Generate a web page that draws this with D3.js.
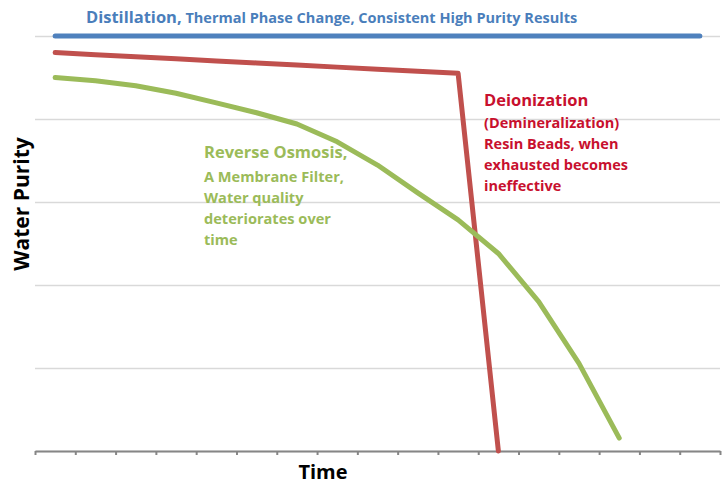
<!DOCTYPE html>
<html lang="en">

<head>
    <meta charset="UTF-8">
    <title>Water Purity over Time</title>
    <script src="https://cdn.jsdelivr.net/npm/d3@7/dist/d3.min.js"></script>
</head>
<style>
    body {
        margin: 0;
        background: #fff;
    }

    text {
        font-family: "Open Sans", "Liberation Sans", sans-serif;
        font-weight: bold;
    }

    .grid line {
        stroke: #d9d9d9;
        stroke-width: 1.5;
    }

    .grid path {
        display: none;
    }

    .xaxis path,
    .xaxis line {
        stroke: #868686;
        stroke-width: 2;
    }
</style>

<body>
    <svg></svg>
</body>

</html>
<script>
    // time periods (no labels shown on the axis)
    const periods = ['1', '2', '3', '4', '5', '6', '7', '8', '9', '10', '11', '12', '13', '14', '15', '16', '17']
    const yTicks = [0, 20, 40, 60, 80, 100]

    const distillation = [100, 100, 100, 100, 100, 100, 100, 100, 100, 100, 100, 100, 100, 100, 100, 100, 100]
    const deionization = [96, 95.5, 95, 94.5, 94, 93.5, 93, 92.5, 92, 91.5, 91, 0]
    const reverseOsmosis = [90, 89.2, 88, 86.2, 83.9, 81.5, 78.8, 74.5, 68.9, 62.2, 55.7, 47.6, 36, 21.1, 3.1]

    const width = 725
    const height = 486
    const plotLeft = 35, plotRight = 720, plotTop = 36, plotBottom = 451

    const svg = d3.select('svg').attr('width', width).attr('height', height)

    const x = d3.scaleBand().domain(periods).range([plotLeft, plotRight]).padding(0)
    const xTick = d3.scaleLinear().domain([0, periods.length]).range([plotLeft, plotRight])
    const y = d3.scaleLinear().domain([0, 100]).range([plotBottom, plotTop])

    // horizontal gridlines
    svg.append('g')
        .attr('class', 'grid')
        .attr('transform', `translate(${plotLeft},0)`)
        .call(d3.axisLeft(y).tickValues(yTicks).tickSize(-(plotRight - plotLeft)).tickFormat(''))

    // category axis, ticks between categories
    svg.append('g')
        .attr('class', 'xaxis')
        .attr('transform', `translate(0,${plotBottom})`)
        .call(d3.axisBottom(xTick).tickValues(d3.range(periods.length + 1)).tickSize(4).tickSizeOuter(0).tickFormat(''))

    const line = d3.line()
        .x((d, i) => x(periods[i]) + x.bandwidth() / 2)
        .y(d => y(d))

    const series = [
        { values: distillation, color: '#4f81bd' },
        { values: deionization, color: '#c0504d' },
        { values: reverseOsmosis, color: '#9bbb59' }
    ]

    svg.selectAll('path.series')
        .data(series)
        .enter()
        .append('path')
        .attr('class', 'series')
        .attr('d', s => line(s.values))
        .attr('fill', 'none')
        .attr('stroke', s => s.color)
        .attr('stroke-width', 5)
        .attr('stroke-linecap', 'round')
        .attr('stroke-linejoin', 'round')

    // title over the distillation line
    const title = svg.append('text')
        .attr('x', 86)
        .attr('y', 23)
        .attr('fill', '#4a7ebb')
    title.append('tspan').attr('font-size', 16.5).text('Distillation,')
    title.append('tspan').attr('font-size', 14.5).text(' Thermal Phase Change, Consistent High Purity Results')

    // reverse osmosis note
    const roLines = ['A Membrane Filter,', 'Water quality', 'deteriorates over', 'time']
    const ro = svg.append('text').attr('fill', '#9bbb59')
    ro.append('tspan').attr('x', 204).attr('y', 158).attr('font-size', 16.5).text('Reverse Osmosis,')
    ro.selectAll(null)
        .data(roLines)
        .enter()
        .append('tspan')
        .attr('x', 204)
        .attr('y', (d, i) => 181.5 + i * 21.2)
        .attr('font-size', 14.6)
        .text(d => d)

    // deionization note
    const diLines = ['(Demineralization)', 'Resin Beads, when', 'exhausted becomes', 'ineffective']
    const di = svg.append('text').attr('fill', '#c8102e')
    di.append('tspan').attr('x', 484).attr('y', 106).attr('font-size', 16.5).text('Deionization')
    di.selectAll(null)
        .data(diLines)
        .enter()
        .append('tspan')
        .attr('x', 484)
        .attr('y', (d, i) => 127.5 + i * 21.2)
        .attr('font-size', 14.5)
        .text(d => d)

    // axis titles
    svg.append('text')
        .attr('transform', 'translate(29,204) rotate(-90)')
        .attr('text-anchor', 'middle')
        .attr('font-size', 21)
        .attr('fill', '#000')
        .text('Water Purity')

    svg.append('text')
        .attr('x', 323)
        .attr('y', 479)
        .attr('text-anchor', 'middle')
        .attr('font-size', 20)
        .attr('fill', '#000')
        .text('Time')
</script>
